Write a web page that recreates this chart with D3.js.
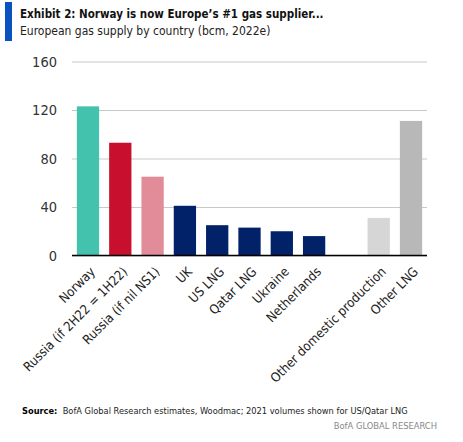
<!DOCTYPE html>
<html>
<head>
<meta charset="utf-8">
<script src="https://cdn.jsdelivr.net/npm/d3@7"></script>
<style>
  body { margin: 0; background: #fff; }
  svg text { font-family: "DejaVu Sans Condensed", "Open Sans", sans-serif; }
</style>
</head>
<body>
<svg width="463" height="442"></svg>
<script>
// data (bcm, 2022e)
const categories = ["Norway", "Russia (if 2H22 = 1H22)", "Russia (if nil NS1)", "UK", "US LNG",
    "Qatar LNG", "Ukraine", "Netherlands", "", "Other domestic production", "Other LNG"];
const values = [123, 93, 65, 41, 25, 23, 20, 16, null, 31, 111];
const barColors = ["#43c2ad", "#c8102e", "#e28b99", "#012169", "#012169", "#012169",
    "#012169", "#012169", "#fff", "#d6d6d6", "#b8b8b8"];
const yTicks = [0, 40, 80, 120, 160];

const data = categories.map((c, i) => ({ key: i, label: c, value: values[i], color: barColors[i] }));

const svg = d3.select('svg');

// header
svg.append('rect')
    .attr('x', 5).attr('y', 2).attr('width', 7).attr('height', 39)
    .attr('fill', '#0a52be');

svg.append('text')
    .attr('x', 20).attr('y', 18)
    .attr('font-size', 11.5).attr('font-weight', 'bold').attr('fill', '#111')
    .text('Exhibit 2: Norway is now Europe\u2019s #1 gas supplier...');

svg.append('text')
    .attr('x', 20).attr('y', 35)
    .attr('font-size', 12).attr('fill', '#222')
    .text('European gas supply by country (bcm, 2022e)');

// chart
const plotLeft = 72, plotRight = 427, plotTop = 61.5, plotBottom = 255.5;

const xScale = d3.scaleBand()
    .range([plotLeft, plotRight])
    .domain(data.map(d => d.key))
    .paddingInner(0.31)
    .paddingOuter(0.15);

const yScale = d3.scaleLinear()
    .range([plotBottom, plotTop])
    .domain([0, 160]);

// grid
svg.append('g')
    .attr('transform', `translate(${plotLeft}, 0)`)
    .call(d3.axisLeft(yScale)
        .tickValues(yTicks)
        .tickSize(-(plotRight - plotLeft))
        .tickPadding(15)
        .tickFormat(d3.format('d')))
    .call(g => g.select('.domain').remove())
    .call(g => g.selectAll('.tick line').attr('stroke', '#c9c9c9').attr('stroke-width', 1))
    .call(g => g.selectAll('.tick text')
        .attr('font-size', 14.5).attr('fill', '#333')
        .style('font-family', '"DejaVu Sans Condensed", sans-serif'));

svg.selectAll('.bar')
    .data(data.filter(d => d.value != null))
    .enter()
    .append('rect')
    .attr('class', 'bar')
    .attr('x', d => xScale(d.key))
    .attr('y', d => yScale(d.value))
    .attr('width', xScale.bandwidth())
    .attr('height', d => yScale(0) - yScale(d.value))
    .attr('fill', d => d.color);

// zero line
svg.append('line')
    .attr('x1', plotLeft).attr('x2', plotRight)
    .attr('y1', yScale(0)).attr('y2', yScale(0))
    .attr('stroke', '#000').attr('stroke-width', 1.5);

// category labels
svg.selectAll('.xlab')
    .data(data.filter(d => d.label))
    .enter()
    .append('text')
    .attr('class', 'xlab')
    .attr('text-anchor', 'end')
    .attr('font-size', 13).attr('fill', '#222')
    .attr('transform', d => `translate(${xScale(d.key) + xScale.bandwidth() / 2 + 8}, ${yScale(0) + 17}) rotate(-45)`)
    .text(d => d.label);

// footer
const src = svg.append('text')
    .attr('x', 22).attr('y', 414)
    .attr('font-size', 9.2).attr('fill', '#222');
src.append('tspan').attr('font-weight', 'bold').attr('fill', '#000').text('Source:');
src.append('tspan').text('\u00a0 BofA Global Research estimates, Woodmac; 2021 volumes shown for US/Qatar LNG');

svg.append('text')
    .attr('x', 437).attr('y', 429)
    .attr('text-anchor', 'end')
    .attr('font-size', 9.3).attr('fill', '#888')
    .text('BofA GLOBAL RESEARCH');
</script>
</body>
</html>
